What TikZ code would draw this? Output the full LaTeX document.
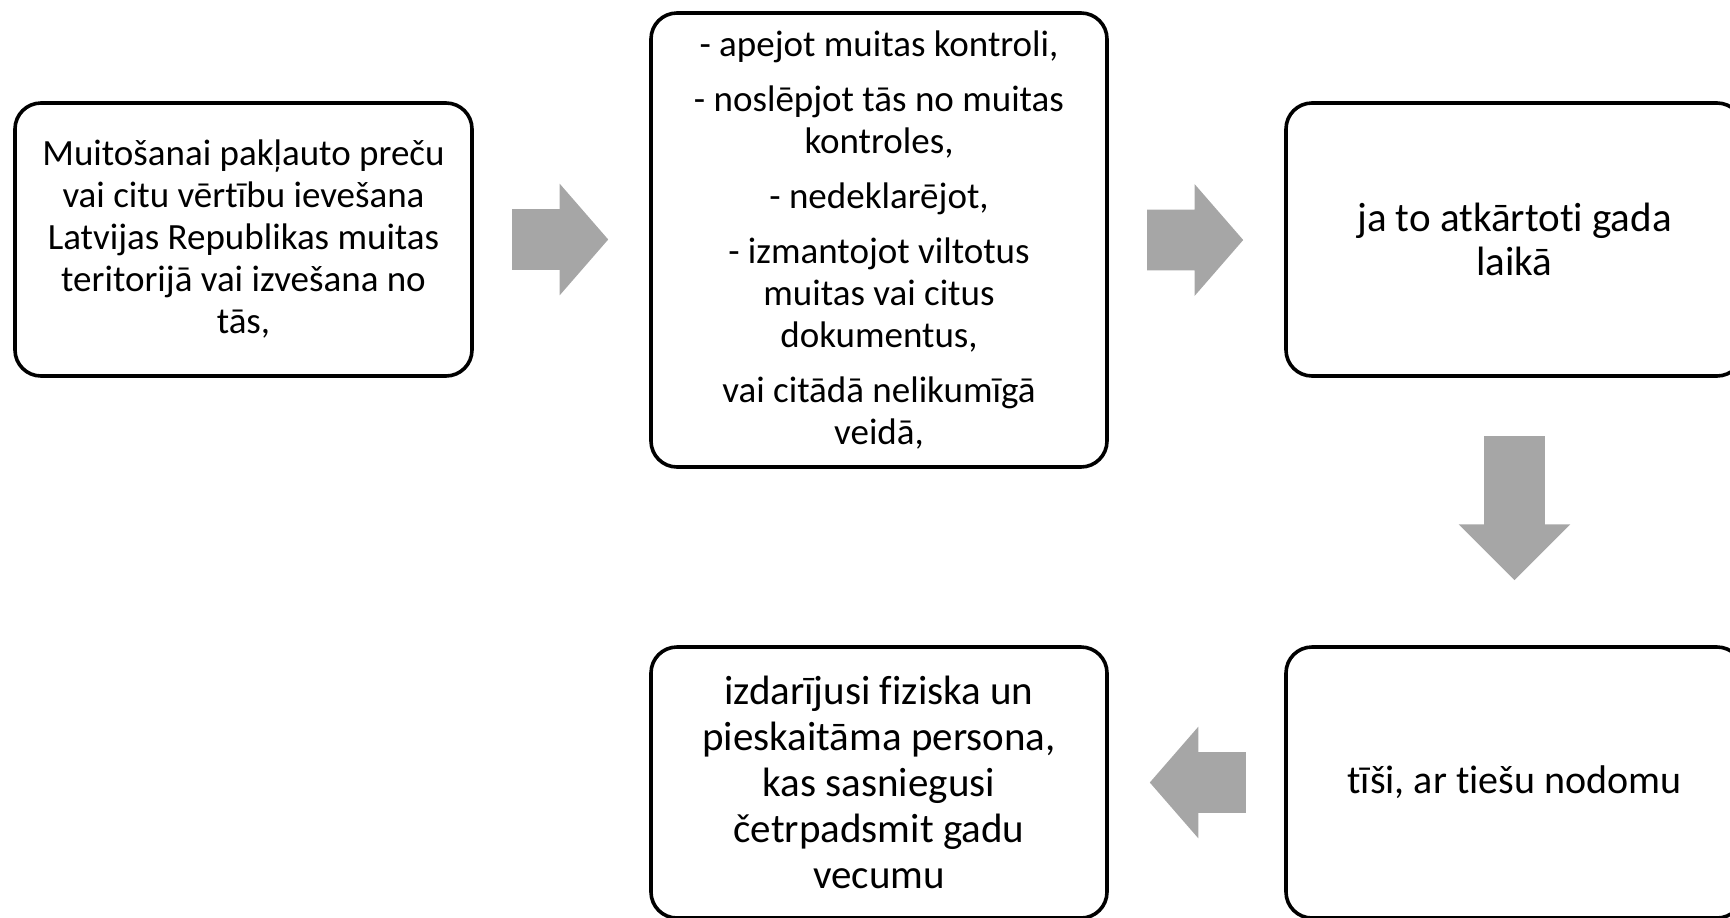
\documentclass[tikz,border=0pt]{standalone}
\usepackage{fontspec}
\setmainfont[Ligatures=NoCommon]{Carlito}
\usetikzlibrary{shapes.arrows, positioning, calc}
\definecolor{arrowgray}{HTML}{A6A6A6}

\begin{document}
\begin{tikzpicture}[x=0.5pt, y=-0.5pt, box/.style={draw, rounded corners=13pt, line width=1.8pt, align=center, inner sep=0pt, font=\fontsize{18.5}{21}\selectfont}, blockarrow/.style={single arrow, fill=arrowgray, draw=none, inner xsep=0pt, inner ysep=15pt, minimum width=55.5pt, minimum height=48pt, single arrow head extend=12.75pt, single arrow tip angle=98, anchor=tail}]
\clip (0,0) rectangle (1730,917);
\node[box, minimum width=228.5pt, minimum height=136.5pt] (Import) at (243.5,239.5) {Muitošanai pakļauto preču\\vai citu vērtību ievešana\\Latvijas Republikas muitas\\teritorijā vai izvešana no\\tās,};
\node[box, minimum width=228pt, minimum height=227pt] (Ways) at (879,240) {- apejot muitas kontroli,\\[6.5pt]- noslēpjot tās no muitas\\kontroles,\\[6.5pt]- nedeklarējot,\\[6.5pt]- izmantojot viltotus\\muitas vai citus\\dokumentus,\\[6.5pt]vai citādā nelikumīgā\\veidā,};
\node[box, minimum width=228.5pt, minimum height=136.5pt, font=\fontsize{20.5}{22}\selectfont] (Repeat) at (1514.5,239.5) {ja to atkārtoti gada\\laikā};
\node[box, minimum width=228.5pt, minimum height=135.5pt, font=\fontsize{20}{23}\selectfont] (Intent) at (1514.5,782.5) {tīši, ar tiešu nodomu};
\node[box, minimum width=228pt, minimum height=135.5pt, font=\fontsize{20.5}{23}\selectfont] (Person) at (879,782.5) {izdarījusi fiziska un\\pieskaitāma persona,\\kas sasniegusi\\četrpadsmit gadu\\vecumu};
\node[blockarrow] (ImportWays) at ($(Import.east)+(38,0)$) {};
\node[blockarrow] (WaysRepeat) at ($(Ways.east)+(38,0)$) {};
\node[blockarrow, shape border rotate=270, inner xsep=15pt, inner ysep=0pt, minimum height=72pt, single arrow tip angle=90] (RepeatIntent) at ($(Repeat.south)+(0,58)$) {};
\node[blockarrow, shape border rotate=180] (IntentPerson) at ($(Intent.west)+(-38,0)$) {};
\end{tikzpicture}
\end{document}
